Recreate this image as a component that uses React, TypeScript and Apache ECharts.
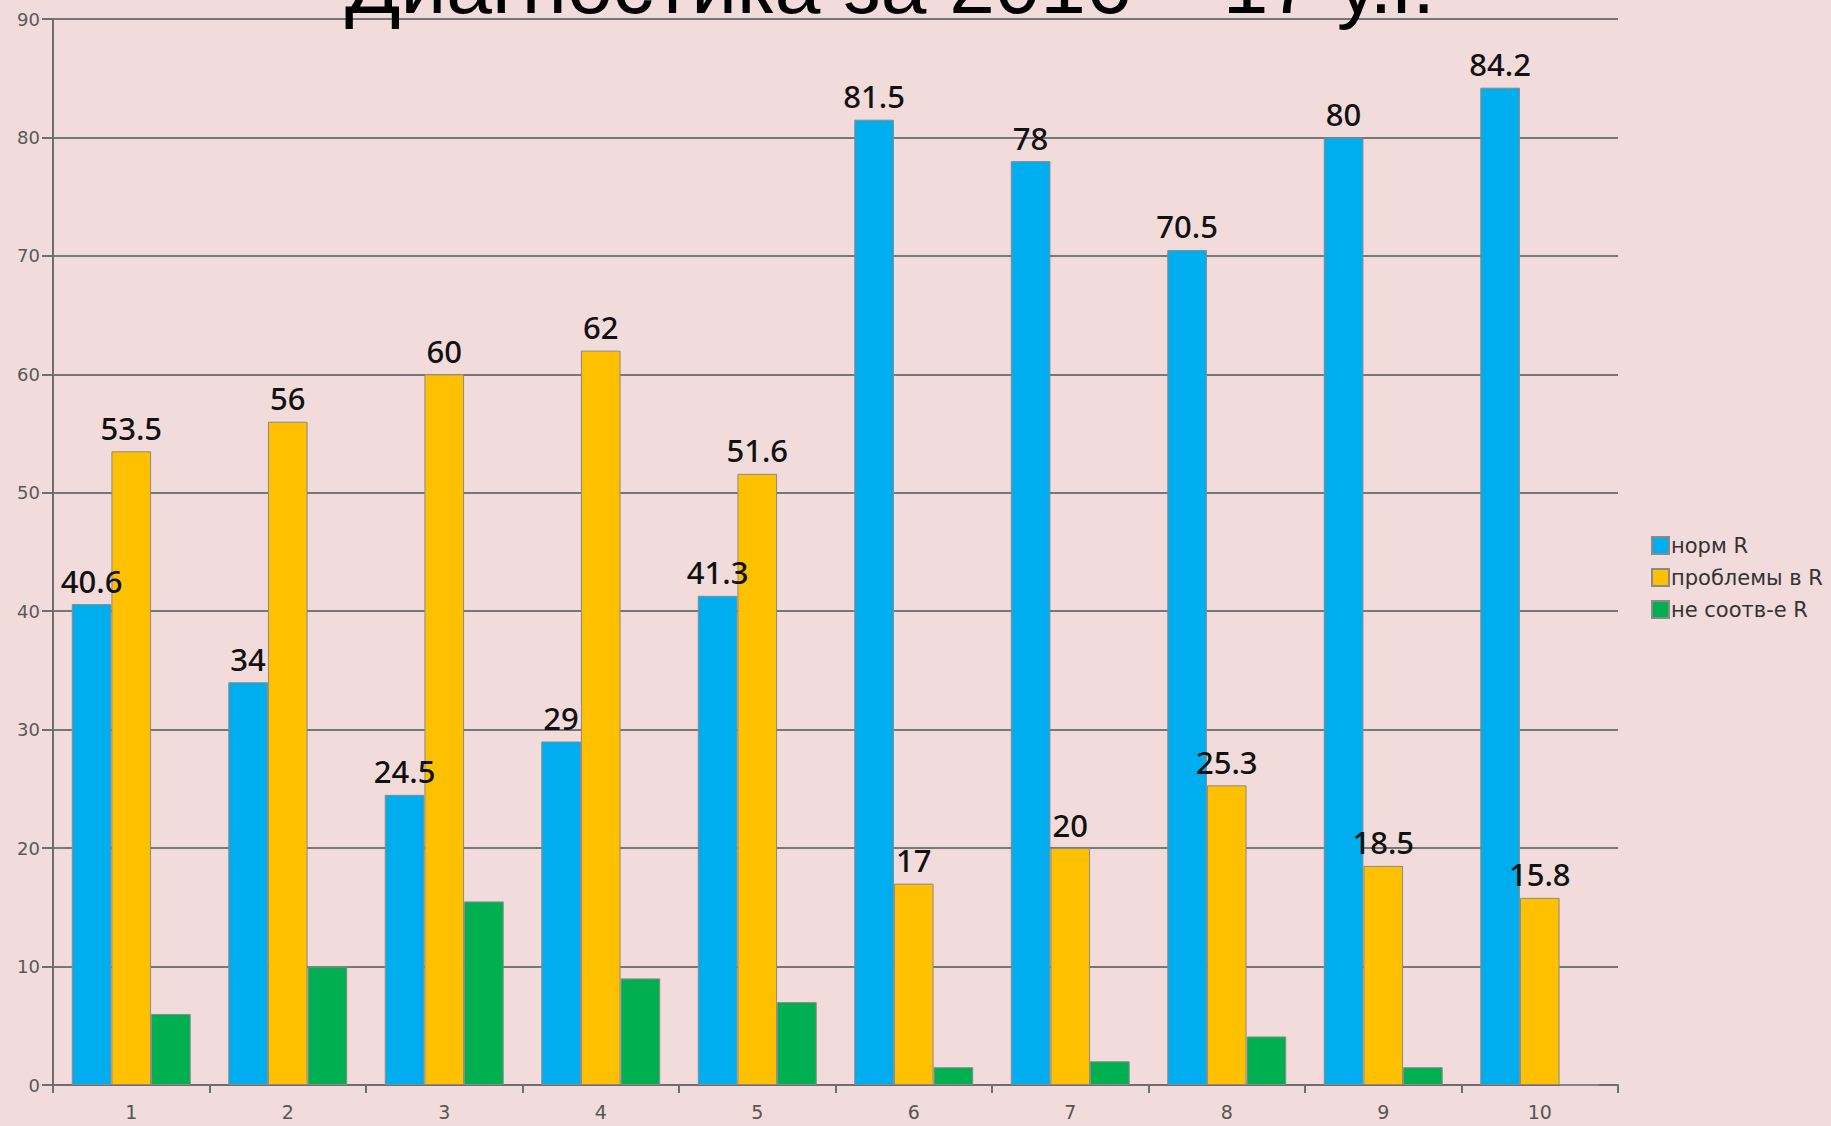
import React, { useEffect, useRef } from "react";
import * as echarts from "echarts";

const categories = ["1", "2", "3", "4", "5", "6", "7", "8", "9", "10"];
const normValues = [40.6, 34, 24.5, 29, 41.3, 81.5, 78, 70.5, 80, 84.2];
const problemValues = [53.5, 56, 60, 62, 51.6, 17, 20, 25.3, 18.5, 15.8];
const mismatchValues = [6, 10, 15.5, 9, 7, 1.5, 2, 4.1, 1.5, 0];
const seriesNames = ["норм R", "проблемы в R", "не соотв-е R"];
const titleText = "Диагностика за 2016 – 17 у.г.";

export default function App() {
  const ref = useRef<HTMLDivElement>(null);
  useEffect(() => {
    if (!ref.current) return;
    const chart = echarts.init(ref.current, null, { renderer: "svg" });
    const labelStyle = {
      show: true,
      position: "top",
      distance: 8,
      color: "#111",
      fontSize: 31,
      fontWeight: 500,
      fontFamily: "Noto Sans",
    };
    const border = { borderColor: "#8a8a8a", borderWidth: 1 };
    chart.setOption({
      animation: false,
      backgroundColor: "#f2dbdb",
      grid: { left: 53, right: 213, top: 19, bottom: 41, containLabel: false },
      graphic: [
        {
          type: "text",
          z: 100,
          x: 890,
          y: -16,
          style: {
            text: titleText,
            fill: "#000",
            font: "82px 'Liberation Sans'",
            textAlign: "center",
            textVerticalAlign: "middle",
          },
        },
      ],
      legend: {
        orient: "vertical",
        left: 1646,
        top: 530,
        itemWidth: 17,
        itemHeight: 17,
        itemGap: 11,
        icon: "rect",
        textStyle: { color: "#333", fontSize: 21, fontFamily: "DejaVu Sans", padding: [0, 0, 0, -3] },
        data: seriesNames,
      },
      xAxis: {
        type: "category",
        data: categories,
        boundaryGap: true,
        axisLine: { lineStyle: { color: "#6e6e6e", width: 2 } },
        axisTick: { show: true, length: 8, lineStyle: { color: "#6e6e6e", width: 2 } },
        axisLabel: { color: "#555", fontSize: 19, fontFamily: "DejaVu Sans", margin: 17 },
      },
      yAxis: {
        type: "value",
        min: 0,
        max: 90,
        interval: 10,
        axisLine: { show: true, lineStyle: { color: "#6e6e6e", width: 2 } },
        axisTick: { show: true, length: 11, lineStyle: { color: "#6e6e6e", width: 2 } },
        splitLine: { show: true, lineStyle: { color: "#777", width: 2 } },
        axisLabel: { color: "#595959", fontSize: 18, fontFamily: "DejaVu Sans", margin: 13 },
      },
      series: [
        {
          name: seriesNames[0],
          type: "bar",
          data: normValues,
          barGap: "0%",
          barCategoryGap: "24%",
          itemStyle: { color: "#00aeef", ...border },
          label: labelStyle,
        },
        {
          name: seriesNames[1],
          type: "bar",
          data: problemValues,
          barGap: "0%",
          barCategoryGap: "24%",
          itemStyle: { color: "#ffc000", ...border },
          label: labelStyle,
        },
        {
          name: seriesNames[2],
          type: "bar",
          data: mismatchValues,
          barGap: "0%",
          barCategoryGap: "24%",
          itemStyle: { color: "#00b050", ...border },
        },
      ],
    });
    return () => chart.dispose();
  }, []);
  return <div ref={ref} style={{ width: 1831, height: 1126, position: "absolute", left: 0, top: 0 }} />;
}
